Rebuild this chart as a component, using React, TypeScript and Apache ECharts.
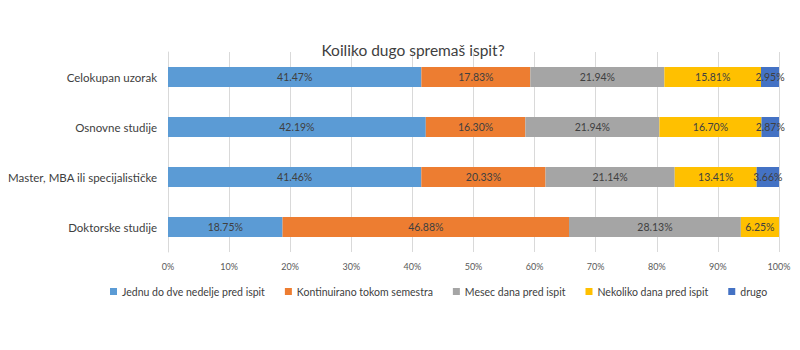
import React, { useEffect, useRef } from "react";
import * as echarts from "echarts";

const categories = ["Celokupan uzorak", "Osnovne studije", "Master, MBA ili specijalističke", "Doktorske studije"];
const seriesNames = ["Jednu do dve nedelje pred ispit", "Kontinuirano tokom semestra", "Mesec dana pred ispit", "Nekoliko dana pred ispit", "drugo"];
const jednu = [41.47, 42.19, 41.46, 18.75];
const kontinuirano = [17.83, 16.30, 20.33, 46.88];
const mesec = [21.94, 21.94, 21.14, 28.13];
const nekoliko = [15.81, 16.70, 13.41, 6.25];
const drugo = [2.95, 2.87, 3.66, 0];
const xTicks = [0, 10, 20, 30, 40, 50, 60, 70, 80, 90, 100];

const colors = ["#5B9BD5", "#ED7D31", "#A5A5A5", "#FFC000", "#4472C4"];
const FONT = "Lato";

export default function App() {
  const ref = useRef<HTMLDivElement>(null);
  useEffect(() => {
    if (!ref.current) return;
    const chart = echarts.init(ref.current, null, { renderer: "svg" });
    const data = [jednu, kontinuirano, mesec, nekoliko, drugo];
    chart.setOption({
      animation: false,
      textStyle: { fontFamily: FONT },
      title: {
        text: "Koiliko dugo spremaš ispit?",
        left: 400,
        textAlign: "center",
        top: 29,
        textStyle: { fontFamily: FONT, fontSize: 15.5, fontWeight: "normal", color: "#404040" },
      },
      legend: {
        bottom: 40,
        left: 97,
        itemWidth: 7,
        itemHeight: 7,
        itemGap: 20,
        icon: "rect",
        textStyle: { fontFamily: FONT, fontSize: 10.5, color: "#404040" },
        data: seriesNames,
      },
      grid: { left: 160, right: 13, top: 44, bottom: 90, containLabel: false, outerBoundsMode: "none" },
      xAxis: {
        type: "value",
        min: 0,
        max: 100,
        interval: 10,
        axisLabel: { formatter: (v: number) => (xTicks.includes(v) ? v + "%" : ""), fontSize: 9, color: "#595959", fontFamily: FONT, margin: 10 },
        splitLine: { lineStyle: { color: "#D9D9D9" } },
        axisLine: { show: false },
        axisTick: { show: false },
      },
      yAxis: {
        type: "category",
        inverse: true,
        data: categories,
        axisLabel: { fontSize: 11.5, color: "#404040", fontFamily: FONT, margin: 11 },
        axisLine: { lineStyle: { color: "#D9D9D9" } },
        axisTick: { show: false },
      },
      series: seriesNames.map((name, i) => ({
        name,
        type: "bar",
        stack: "total",
        barWidth: 20,
        itemStyle: { color: colors[i] },
        label: {
          show: true,
          position: "inside",
          fontSize: 10.5,
          color: "#404040",
          fontFamily: FONT,
          formatter: (p: any) => (p.value > 0 ? p.value.toFixed(2) + "%" : ""),
        },
        data: data[i],
      })),
    });
    return () => chart.dispose();
  }, []);
  return <div ref={ref} style={{ width: 784, height: 334 }} />;
}
